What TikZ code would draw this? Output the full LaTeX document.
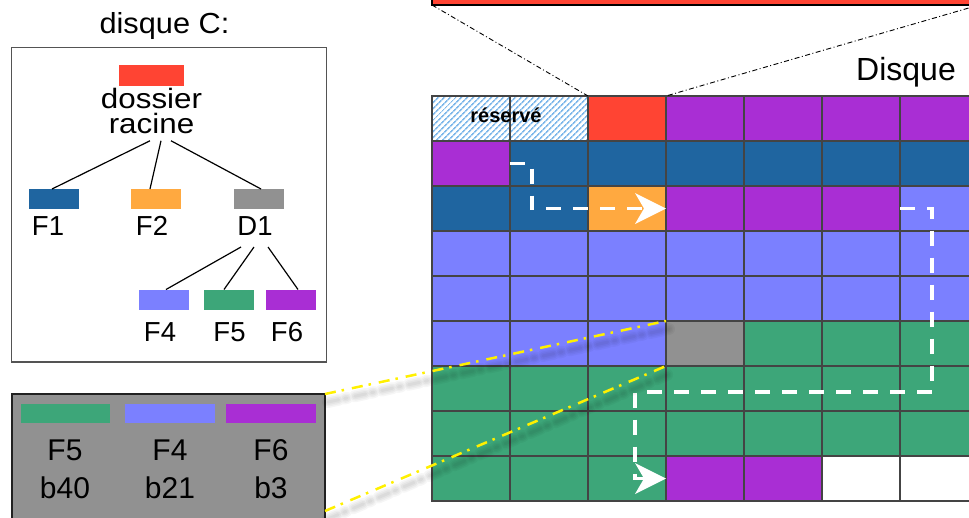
\documentclass[tikz,border=0pt]{standalone}
\usepackage{fontspec}
\setmainfont{Liberation Sans}
\usetikzlibrary{arrows.meta,patterns.meta,calc}
\definecolor{cred}{HTML}{FF4433}
\definecolor{cpur}{HTML}{A92ED4}
\definecolor{cblu}{HTML}{1F65A0}
\definecolor{corg}{HTML}{FFA940}
\definecolor{cper}{HTML}{7B80FF}
\definecolor{cgrn}{HTML}{3DA679}
\definecolor{cgry}{HTML}{919191}
\definecolor{cgridl}{HTML}{444444}
\definecolor{chatch}{HTML}{7DB7EA}
\definecolor{cyel}{HTML}{FFF000}
\tikzset{
 cell/.style={draw=cgridl, line width=2pt, minimum width=78pt, minimum height=45pt, inner sep=0pt, outer sep=0pt},
 trect/.style={minimum width=50pt, minimum height=20pt, inner sep=0pt, outer sep=0pt},
 tlbl/.style={anchor=base, inner sep=0pt, font=\fontsize{27.5}{30}\selectfont},
 llbl/.style={anchor=base, inner sep=0pt, font=\fontsize{30}{34}\selectfont},
 tline/.style={line width=1.2pt, draw=black},
 wpath/.style={draw=white, line width=3.5pt, dash pattern=on 15pt off 12pt, -{Stealth[length=31pt,width=31pt,inset=9pt,line width=0pt]}},
 yel/.style={draw=cyel, line width=2.5pt, dash pattern=on 11pt off 6pt on 2.5pt off 8pt},
 yshadow/.style={draw=black, opacity=0.035, line width=#1, dash pattern=on 11pt off 6pt on 2.5pt off 8pt, line cap=round},
 ddl/.style={draw=black, line width=0.9pt, dash pattern=on 5pt off 2.5pt on 1pt off 2.5pt},
}
\begin{document}
\begin{tikzpicture}[x=1pt,y=-1pt]
\useasboundingbox (0,0) rectangle (969,517);
\clip (0,0) rectangle (969,517);
\fill[white] (0,0) rectangle (969,517);

% memory strip at the top
\node[draw=black, line width=1.5pt, fill=cred, minimum width=547pt, minimum height=25pt, anchor=south west, inner sep=0pt, outer sep=0pt] (mem) at (432,5) {};

% disk grid
\foreach \rowcols [count=\r from 0] in {
 {white,white,cred,cpur,cpur,cpur,cpur},
 {cpur,cblu,cblu,cblu,cblu,cblu,cblu},
 {cblu,cblu,corg,cpur,cpur,cpur,cper},
 {cper,cper,cper,cper,cper,cper,cper},
 {cper,cper,cper,cper,cper,cper,cper},
 {cper,cper,cper,cgry,cgrn,cgrn,cgrn},
 {cgrn,cgrn,cgrn,cgrn,cgrn,cgrn,cgrn},
 {cgrn,cgrn,cgrn,cgrn,cgrn,cgrn,cgrn},
 {cgrn,cgrn,cgrn,cpur,cpur,white,white}}{
  \foreach \col [count=\c from 0] in \rowcols {
    \node[cell, fill=\col] (g\r-\c) at ({471+78*(\c-1)+78},{118.5+45*(\r-1)+45}) {};
  }
}
\fill[pattern={Lines[angle=45,distance=4pt,line width=1.7pt]}, pattern color=chatch] (g0-0.north west) rectangle (g0-1.south east);
\draw[draw=cgridl, line width=2pt] (g0-0.north west) rectangle (g0-0.south east);
\draw[draw=cgridl, line width=2pt] (g0-1.north west) rectangle (g0-1.south east);
\node[anchor=base, inner sep=0pt, font=\bfseries\fontsize{20}{22}\selectfont] (res) at (506,122) {réservé};

\node[anchor=base west, inner sep=0pt, font=\fontsize{32}{36}\selectfont] (disk) at (856,80) {Disque};

% zoom lines from memory strip
\draw[ddl] (mem.south west) -- (g0-2.north west);
\draw[ddl] (mem.south east) -- (g0-2.north east);

% white dashed chains
\draw[wpath] (g1-1.west) -- ++(22,0) |- (g2-2.east);
\coordinate (t1) at (635,392);
\draw[wpath] (g2-6.west) -- ++(32,0) |- (t1) |- (g8-3.west);

% directory tree box
\node[anchor=base, inner sep=0pt, font=\fontsize{29}{34}\selectfont] (title) at (164.5,33) {\scalebox{1.06}[1]{disque C:}};
\node[draw=black!67, line width=1.5pt, minimum width=315pt, minimum height=314.7pt, inner sep=0pt] (diskc) at (169.2,204.6) {};

\node[trect, fill=cred, minimum width=65pt, minimum height=21pt] (root) at (151.5,75.5) {};
\node[anchor=north, inner sep=0pt, align=center, font=\fontsize{28}{25}\selectfont] (rootlbl) at (151.5,87.8) {\scalebox{1.12}[1]{dossier}\\\scalebox{1.12}[1]{racine}};
\node[trect, fill=cblu] (f1) at (54,199) {};
\node[trect, fill=corg] (f2) at (156,199) {};
\node[trect, fill=cgry] (d1) at (259,199) {};
\node[tlbl] (f1l) at (48,235) {F1};
\node[tlbl] (f2l) at (152,235) {F2};
\node[tlbl] (d1l) at (255,235) {D1};
\node[trect, fill=cper] (f4) at (164,299.5) {};
\node[trect, fill=cgrn] (f5) at (229,299.5) {};
\node[trect, fill=cpur] (f6) at (291,299.5) {};
\node[tlbl] (f4l) at (160,341) {F4};
\node[tlbl] (f5l) at (229.5,341) {F5};
\node[tlbl] (f6l) at (287,341) {F6};

\draw[tline] ($(rootlbl.south)+(-1.5,7)$) -- ($(f1.north)+(-2,0)$);
\draw[tline] ($(rootlbl.south)+(9.5,7)$) -- ($(f2.north)+(-6,0)$);
\draw[tline] ($(rootlbl.south)+(19.5,7)$) -- ($(d1.north)+(2,0)$);
\draw[tline] ($(d1l.base)+(-14,12)$) -- ($(f4.north)+(2,0)$);
\draw[tline] ($(d1l.base)+(-1,12)$) -- ($(f5.north)+(-5,0)$);
\draw[tline] ($(d1l.base)+(13,12)$) -- ($(f6.north)+(7,0)$);

% legend box (directory D1 content)
\node[draw=black!87, fill=cgry, line width=2pt, minimum width=313pt, minimum height=150pt, anchor=north west, inner sep=0pt, outer sep=0pt] (leg) at (12,394) {};
\coordinate (legr) at (325,511);
\node[trect, fill=cgrn, minimum width=89pt, minimum height=19pt] (lg5) at (65.5,413.5) {};
\node[trect, fill=cper, minimum width=90pt, minimum height=19pt] (lg4) at (170,413.5) {};
\node[trect, fill=cpur, minimum width=90pt, minimum height=19pt] (lg6) at (271,413.5) {};
\node[llbl] (l5a) at (65,460) {F5};
\node[llbl] (l5b) at (65,498) {b40};
\node[llbl] (l4a) at (170,460) {F4};
\node[llbl] (l4b) at (170,498) {b21};
\node[llbl] (l6a) at (271,460) {F6};
\node[llbl] (l6b) at (271,498) {b3};

% yellow zoom lines with soft shadow
\foreach \w in {12pt,9pt,6pt,3pt}{
  \draw[yshadow=\w] ([shift={(3pt,-8pt)}]leg.north east) -- ([shift={(3pt,-8pt)}]g5-3.north west);
  \draw[yshadow=\w] ([shift={(3pt,-8pt)}]legr) -- ([shift={(3pt,-8pt)}]g5-3.south west);
}
\draw[yel] (leg.north east) -- (g5-3.north west);
\draw[yel] (legr) -- (g5-3.south west);
\end{tikzpicture}
\end{document}
